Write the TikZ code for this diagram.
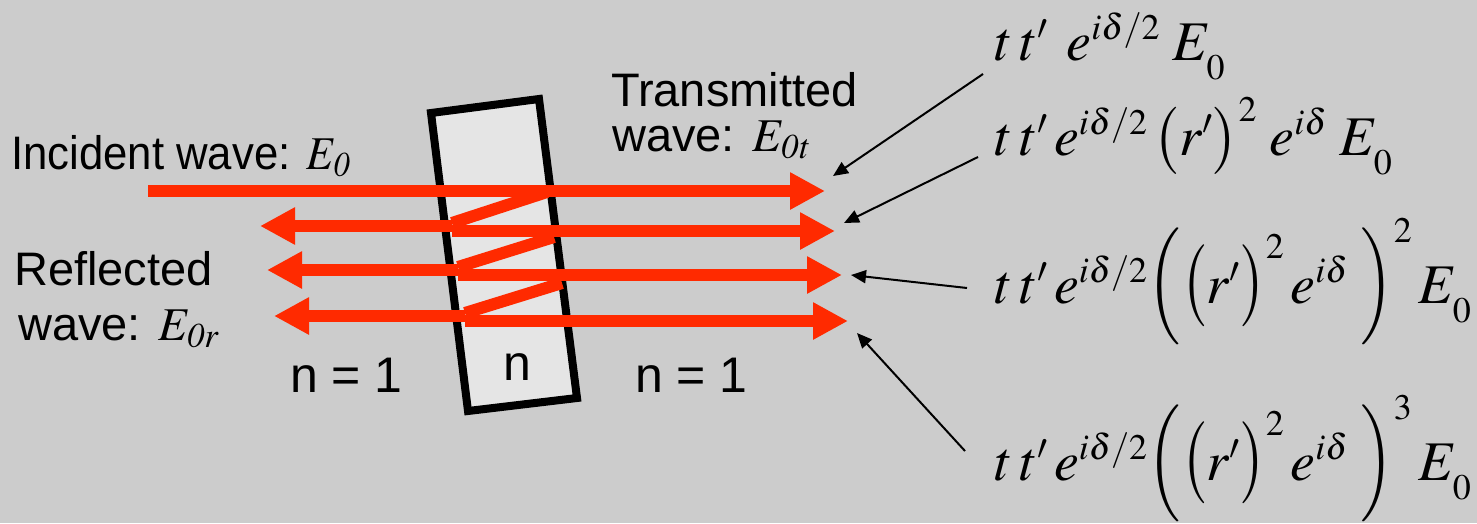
\documentclass[tikz,border=0pt]{standalone}
\usepackage{mathptmx}
\usepackage[no-math]{fontspec}
\setmainfont{Liberation Sans}
\usepackage{tikz}
\usetikzlibrary{calc,arrows.meta}
\definecolor{slide}{HTML}{CCCCCC}
\definecolor{glass}{HTML}{E5E5E5}
\definecolor{beam}{HTML}{FF2A00}
\DeclareMathSizes{56}{56}{36}{28}
\newcommand{\outerL}{\mathopen{\scalebox{1}[1.16]{$\Bigl($}}}
\newcommand{\outerR}{\mathclose{\scalebox{1}[1.16]{$\Bigr)$}}}
\newcommand{\innerL}{\mathopen{\scalebox{1}[1.22]{$\bigl($}}}
\newcommand{\innerR}{\mathclose{\scalebox{1}[1.22]{$\bigr)$}}}
\newcommand{\lowzero}{\lower11pt\hbox{$\scriptstyle 0$}}

\begin{document}
\begin{tikzpicture}[x=1pt,y=-1pt,
  txt/.style={anchor=base west,inner sep=0pt,font=\fontsize{47}{47}\selectfont},
  nlab/.style={anchor=base west,inner sep=0pt,font=\fontsize{50}{50}\selectfont},
  eq/.style={anchor=base west,inner sep=0pt,font=\fontsize{56}{60}\selectfont},
  ray/.style={beam,line width=12pt},
  rayhead/.style={-{Triangle[length=35pt,width=35pt]}},
  ptr/.style={-{Triangle[length=15pt,width=13pt]},line width=2pt}]
\fill[slide] (0,0) rectangle (1477,523);
\useasboundingbox (0,0) rectangle (1477,523);
% slab
\draw[line width=8pt,fill=glass] (431,113) -- (539,99) -- (577,398) -- (468,411) -- cycle;
\node[nlab] (nslab) at (503,380) {n};
% beams
\coordinate (src) at (148,191);
\coordinate (t0) at (825,191);
\draw[ray,rayhead] (src) -- (t0);
\foreach \k/\xl/\yr/\yt/\xd/\yd/\xr/\xt in {1/452/226/231/547/192/260/835,2/458/270/275/554/237/267/842,3/465/316/321/562/283/274/848}{
  \coordinate (b\k) at (\xd,\yd);
  \coordinate (f\k) at (\xl,\yr);
  \coordinate (g\k) at (\xl,\yt);
  \coordinate (r\k) at (\xr,\yr);
  \coordinate (t\k) at (\xt,\yt);
  \draw[ray] (b\k) -- ($(f\k)+(0,-3)$);
  \draw[ray,rayhead] (f\k) -- (r\k);
  \draw[ray,rayhead] (g\k) -- (t\k);}
% labels
\node[txt] (inc) at (11,169) {\scalebox{0.93}[1]{Incident wave: $E_{\mathit{0}}$}};
\node[txt] (trn1) at (611,106) {Transmitted};
\node[txt] (trn2) at (612,151) {wave: $E_{\mathit{0t}}$};
\node[txt] (ref1) at (14,285) {Reflected};
\node[txt] (ref2) at (18,340) {wave: $E_{\mathit{0r}}$};
\node[nlab] (nleft) at (290,392) {n = 1};
\node[nlab] (nright) at (635,392) {n = 1};
% terms
\node[eq] (f1) at (995,60) {$t\,t'\;\,e^{i\delta/2}\;E_{\lowzero}$};
\node[eq] (f2) at (995,155) {$t\,t'\,e^{i\delta/2}\,\bigl(r'\bigr)^2\;e^{i\delta}\;E_{\lowzero}$};
\node[eq] (f3) at (995,303) {$t\,t'\,e^{i\delta/2}\outerL\innerL r'\innerR^2\,e^{i\delta}\;\outerR^2\,E_{\lowzero}$};
\node[eq] (f4) at (995,480) {$t\,t'\,e^{i\delta/2}\outerL\innerL r'\innerR^2\,e^{i\delta}\;\outerR^3\,E_{\lowzero}$};
\foreach \k/\sx/\sy/\px/\py in {1/983/74/833/176,2/978/157/844/223,3/967/288/851/275,4/965/451/857/333}{
  \coordinate (s\k) at (\sx,\sy);
  \coordinate (p\k) at (\px,\py);
  \draw[ptr] (s\k) -- (p\k);}
\end{tikzpicture}
\end{document}
